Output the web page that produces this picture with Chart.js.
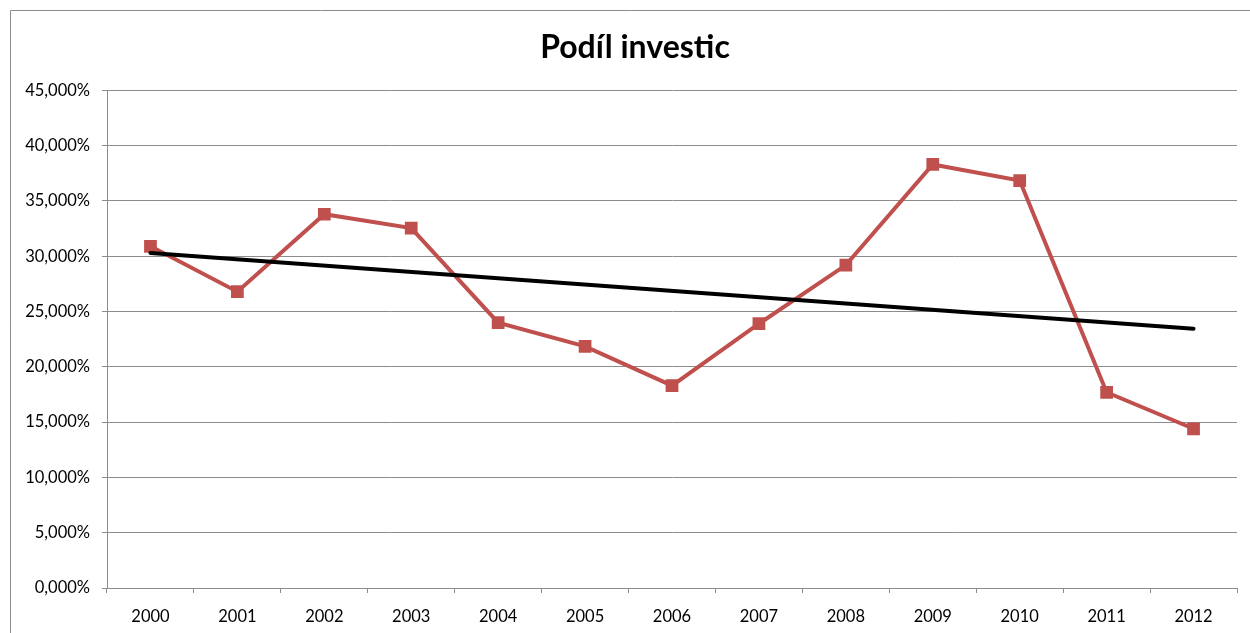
<!DOCTYPE html>
<html>
<head>
<meta charset="utf-8">
<script src="https://cdn.jsdelivr.net/npm/chart.js@4"></script>
<style>
    html, body { margin: 0; padding: 0; background: #fff; }
    #wrap { width: 1250px; height: 633px; position: relative; }
</style>
</head>
<body>
<div id="wrap"><canvas id="chart"></canvas></div>
<script>
var years = ['2000', '2001', '2002', '2003', '2004', '2005', '2006',
             '2007', '2008', '2009', '2010', '2011', '2012'];
var investShare = [30.9, 26.8, 33.8, 32.55, 24.0, 21.85, 18.3,
                   23.9, 29.2, 38.3, 36.85, 17.7, 14.4];
var trendLine = [30.3, null, null, null, null, null, null,
                 null, null, null, null, null, 23.45];
var yTicks = [0, 5, 10, 15, 20, 25, 30, 35, 40, 45];

var gridColor = '#8c8c8c';

// outer frame like the Excel chart border
var framePlugin = {
    id: 'frame',
    beforeDraw: function(chart) {
        var ctx = chart.ctx;
        ctx.save();
        ctx.strokeStyle = '#8c8c8c';
        ctx.lineWidth = 1;
        ctx.beginPath();
        ctx.moveTo(10.5, chart.height);
        ctx.lineTo(10.5, 10.5);
        ctx.lineTo(chart.width, 10.5);
        ctx.stroke();
        ctx.restore();
    }
};

new Chart(document.getElementById('chart'), {
    type: 'line',
    data: {
        labels: years,
        datasets: [{
            label: 'Trend',
            data: trendLine,
            borderColor: '#000000',
            borderWidth: 4,
            borderCapStyle: 'round',
            pointRadius: 0,
            spanGaps: true,
            tension: 0,
            order: 0
        }, {
            label: 'Podíl investic',
            data: investShare,
            borderColor: '#C0504D',
            backgroundColor: '#C0504D',
            borderWidth: 4,
            pointStyle: 'rect',
            pointRadius: 9,
            pointBorderWidth: 0,
            pointBackgroundColor: '#C0504D',
            tension: 0,
            order: 1
        }]
    },
    plugins: [framePlugin],
    options: {
        responsive: true,
        maintainAspectRatio: false,
        animation: false,
        layout: { padding: { left: 22, right: 2, top: 0, bottom: 0 } },
        plugins: {
            legend: { display: false },
            tooltip: { enabled: false },
            title: {
                display: true,
                text: 'Podíl investic',
                color: '#000',
                font: { family: 'Lato', size: 32, weight: 'bold' },
                padding: { top: 28, bottom: 24 }
            }
        },
        scales: {
            x: {
                offset: true,
                grid: {
                    offset: true,
                    drawOnChartArea: false,
                    drawTicks: true,
                    tickLength: 5,
                    color: gridColor
                },
                border: { color: gridColor },
                ticks: {
                    color: '#000',
                    font: { family: 'Lato', size: 16.5 },
                    padding: 14,
                    maxRotation: 0
                },
                afterFit: function(scale) { scale.height = 45; }
            },
            y: {
                min: 0,
                max: 45,
                afterBuildTicks: function(scale) {
                    scale.ticks = yTicks.map(function(v) { return { value: v }; });
                },
                grid: { color: gridColor, tickLength: 5 },
                border: { color: gridColor },
                ticks: {
                    color: '#000',
                    font: { family: 'Lato', size: 16.5 },
                    padding: 12,
                    callback: function(v) {
                        return v.toFixed(3).replace('.', ',') + '%';
                    }
                },
                afterFit: function(scale) { scale.width = 85; }
            },
            // empty right-hand spacer so the plot ends where the original does
            spacer: {
                position: 'right',
                grid: { display: false },
                border: { display: false },
                ticks: { display: false },
                afterFit: function(scale) { scale.width = 11; }
            }
        }
    }
});
</script>
</body>
</html>
